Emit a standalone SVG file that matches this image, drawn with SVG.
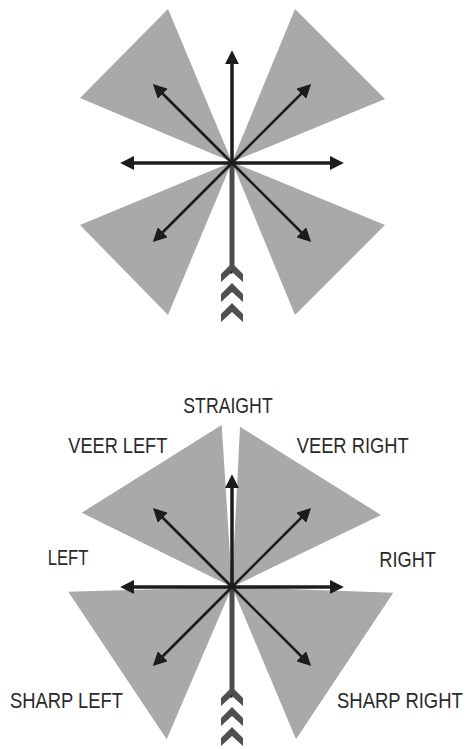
<svg xmlns="http://www.w3.org/2000/svg" width="470" height="749" viewBox="0 0 470 749">
<style>
.tri{fill:#a9a9a9}
.arw{stroke:#1c1c1c;fill:none;marker-end:url(#ah)}
.hv{stroke-width:3.5}
.dg{stroke-width:2.6}
.stem{stroke:#4b4b4b;stroke-width:5;fill:none}
.chev{fill:#4f4f4f}
.lbl{font-family:"Liberation Sans",Arial,sans-serif;font-size:22px;fill:#2a2a2a}
</style>
<defs>
<marker id="ah" markerUnits="userSpaceOnUse" markerWidth="14" markerHeight="14" viewBox="0 0 12 12" refX="7" refY="6" orient="auto">
<path d="M0,0 L12,6 L0,12 z" fill="#1c1c1c"/>
</marker>
<g id="chevrons">
<polygon class="chev" points="232,0 243,11 243,19 232,9 221,19 221,11"/>
<polygon class="chev" points="232,20 243,31 243,39 232,29 221,39 221,31"/>
<polygon class="chev" points="232,40 243,51 243,59 232,49 221,59 221,51"/>
</g>
<g id="arrowset">
<line class="arw hv" x1="232" y1="163" x2="232" y2="56"/>
<line class="arw hv" x1="232" y1="163" x2="126" y2="163"/>
<line class="arw hv" x1="232" y1="163" x2="338" y2="163"/>
<line class="arw dg" x1="232" y1="163" x2="157" y2="88"/>
<line class="arw dg" x1="232" y1="163" x2="307" y2="88"/>
<line class="arw dg" x1="232" y1="163" x2="157" y2="238"/>
<line class="arw dg" x1="232" y1="163" x2="307" y2="238"/>
</g>
</defs>

<g id="diagram-top">
<g id="top-sector-upper-left"><polygon class="tri" points="168,9 80,98 232,162"/></g>
<g id="top-sector-upper-right"><polygon class="tri" points="295,9 385,99 232,162"/></g>
<g id="top-sector-lower-left"><polygon class="tri" points="80,225 168,315 232,162"/></g>
<g id="top-sector-lower-right"><polygon class="tri" points="385,225 295,315 232,162"/></g>
<g id="top-approach">
<line class="stem" x1="232" y1="165" x2="232" y2="272"/>
<use href="#chevrons" x="0" y="263"/>
<rect x="230.5" y="271.5" width="2" height="2" fill="#111"/>
</g>
<g id="top-connectors"><use href="#arrowset"/></g>
</g>

<g id="diagram-bottom">
<g id="veer-left"><polygon class="tri" points="221.7,425 81.7,512.7 232,587"/>
<text class="lbl" x="68.3" y="453" textLength="99" lengthAdjust="spacingAndGlyphs">VEER LEFT</text></g>
<g id="veer-right"><polygon class="tri" points="240,426.7 381,515 232,587"/>
<text class="lbl" x="296.7" y="453" textLength="112" lengthAdjust="spacingAndGlyphs">VEER RIGHT</text></g>
<g id="sharp-left"><polygon class="tri" points="68.3,591.7 166.7,739.3 232,587"/>
<text class="lbl" x="10" y="708" textLength="113" lengthAdjust="spacingAndGlyphs">SHARP LEFT</text></g>
<g id="sharp-right"><polygon class="tri" points="393.3,592.7 296,739.3 232,587"/>
<text class="lbl" transform="translate(337,708) scale(0.84,1)">SHARP RIGHT</text></g>
<g id="straight"><text class="lbl" x="183.3" y="413" textLength="89.4" lengthAdjust="spacingAndGlyphs">STRAIGHT</text></g>
<g id="left"><text class="lbl" x="47.7" y="565" textLength="40.6" lengthAdjust="spacingAndGlyphs">LEFT</text></g>
<g id="right"><text class="lbl" x="379.3" y="567" textLength="56.7" lengthAdjust="spacingAndGlyphs">RIGHT</text></g>
<g id="bottom-approach">
<line class="stem" x1="232" y1="589" x2="232" y2="696"/>
<use href="#chevrons" x="0" y="687"/>
<rect x="230.5" y="695.5" width="2" height="2" fill="#111"/>
</g>
<g id="bottom-connectors"><use href="#arrowset" x="0" y="424"/></g>
</g>
</svg>
